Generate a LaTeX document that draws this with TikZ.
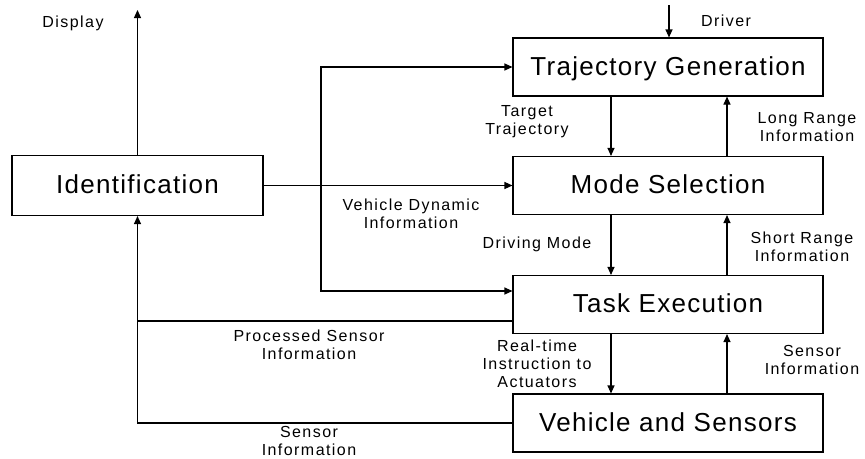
\documentclass[tikz,border=0pt]{standalone}
\usepackage{fontspec}
\setmainfont{Liberation Sans}
\newfontfamily\boxfont[LetterSpace=5]{Liberation Sans}
\newfontfamily\lblfont[LetterSpace=9]{Liberation Sans}
\usetikzlibrary{arrows.meta,calc}
\tikzset{
 block/.style={draw, line width=1.1pt, minimum width=310pt, minimum height=58pt, inner sep=0pt,
   text height=18pt, text depth=2pt, font=\boxfont\fontsize{26}{30}\selectfont},
 lbl/.style={align=center, inner sep=0pt, font=\lblfont\fontsize{16}{18}\selectfont},
 conn/.style={line width=1.1pt},
 arr/.style={line width=1.1pt, -{Triangle[length=8pt,width=7pt]}},
}
\begin{document}
\begin{tikzpicture}[x=1pt,y=-1pt]
\useasboundingbox (0,0) rectangle (865,458);
\node[block] (traj) at (668,67) {Trajectory Generation};
\node[block] (mode) at (668,185.5) {Mode Selection};
\node[block] (task) at (668,304.5) {Task Execution};
\node[block] (veh) at (668,423) {Vehicle and Sensors};
\node[block, minimum width=251pt, minimum height=60pt] (ident) at (137.5,185.5) {Identification};

\coordinate (disp) at (137.5,10);
\coordinate (drv) at (669,5);
\coordinate (j) at (321,185.5);
\coordinate (k) at (137.5,321);

\draw[arr] (ident.north) -- (disp);
\draw[arr] (drv) -- (drv |- traj.north);
\draw[arr] (ident.east) -- (mode.west);
\draw[arr] (j) |- (traj.west);
\draw[arr] (j) |- ([yshift=13.5pt]task.west);

\draw[arr] ([xshift=-57pt]traj.south) -- ([xshift=-57pt]mode.north);
\draw[arr] ([xshift=-57pt]mode.south) -- ([xshift=-57pt]task.north);
\draw[arr] ([xshift=-57pt]task.south) -- ([xshift=-57pt]veh.north);
\draw[arr] ([xshift=59pt]mode.north) -- ([xshift=59pt]traj.south);
\draw[arr] ([xshift=59pt]task.north) -- ([xshift=59pt]mode.south);
\draw[arr] ([xshift=59pt]veh.north) -- ([xshift=59pt]task.south);

\draw[conn] ([yshift=-16.5pt]task.west) -- (k);
\draw[arr] (veh.west) -| (ident.south);

\node[lbl] (ldisp) at (73,23) {Display};
\node[lbl] (ldrv) at (726,21) {Driver};
\node[lbl] (ltt) at (527,122) {Target\\Trajectory};
\node[lbl] (llr) at (807,127) {Long Range\\Information};
\node[lbl] (lvd) at (411,214) {Vehicle Dynamic\\Information};
\node[lbl] (ldm) at (537,244) {Driving Mode};
\node[lbl] (lsr) at (802,247) {Short Range\\Information};
\node[lbl] (lps) at (309,345) {Processed Sensor\\Information};
\node[lbl] (lrt) at (537,364) {Real-time\\Instruction to\\Actuators};
\node[lbl] (lsi) at (812,360) {Sensor\\Information};
\node[lbl] (lsi2) at (309,441) {Sensor\\Information};
\end{tikzpicture}
\end{document}
